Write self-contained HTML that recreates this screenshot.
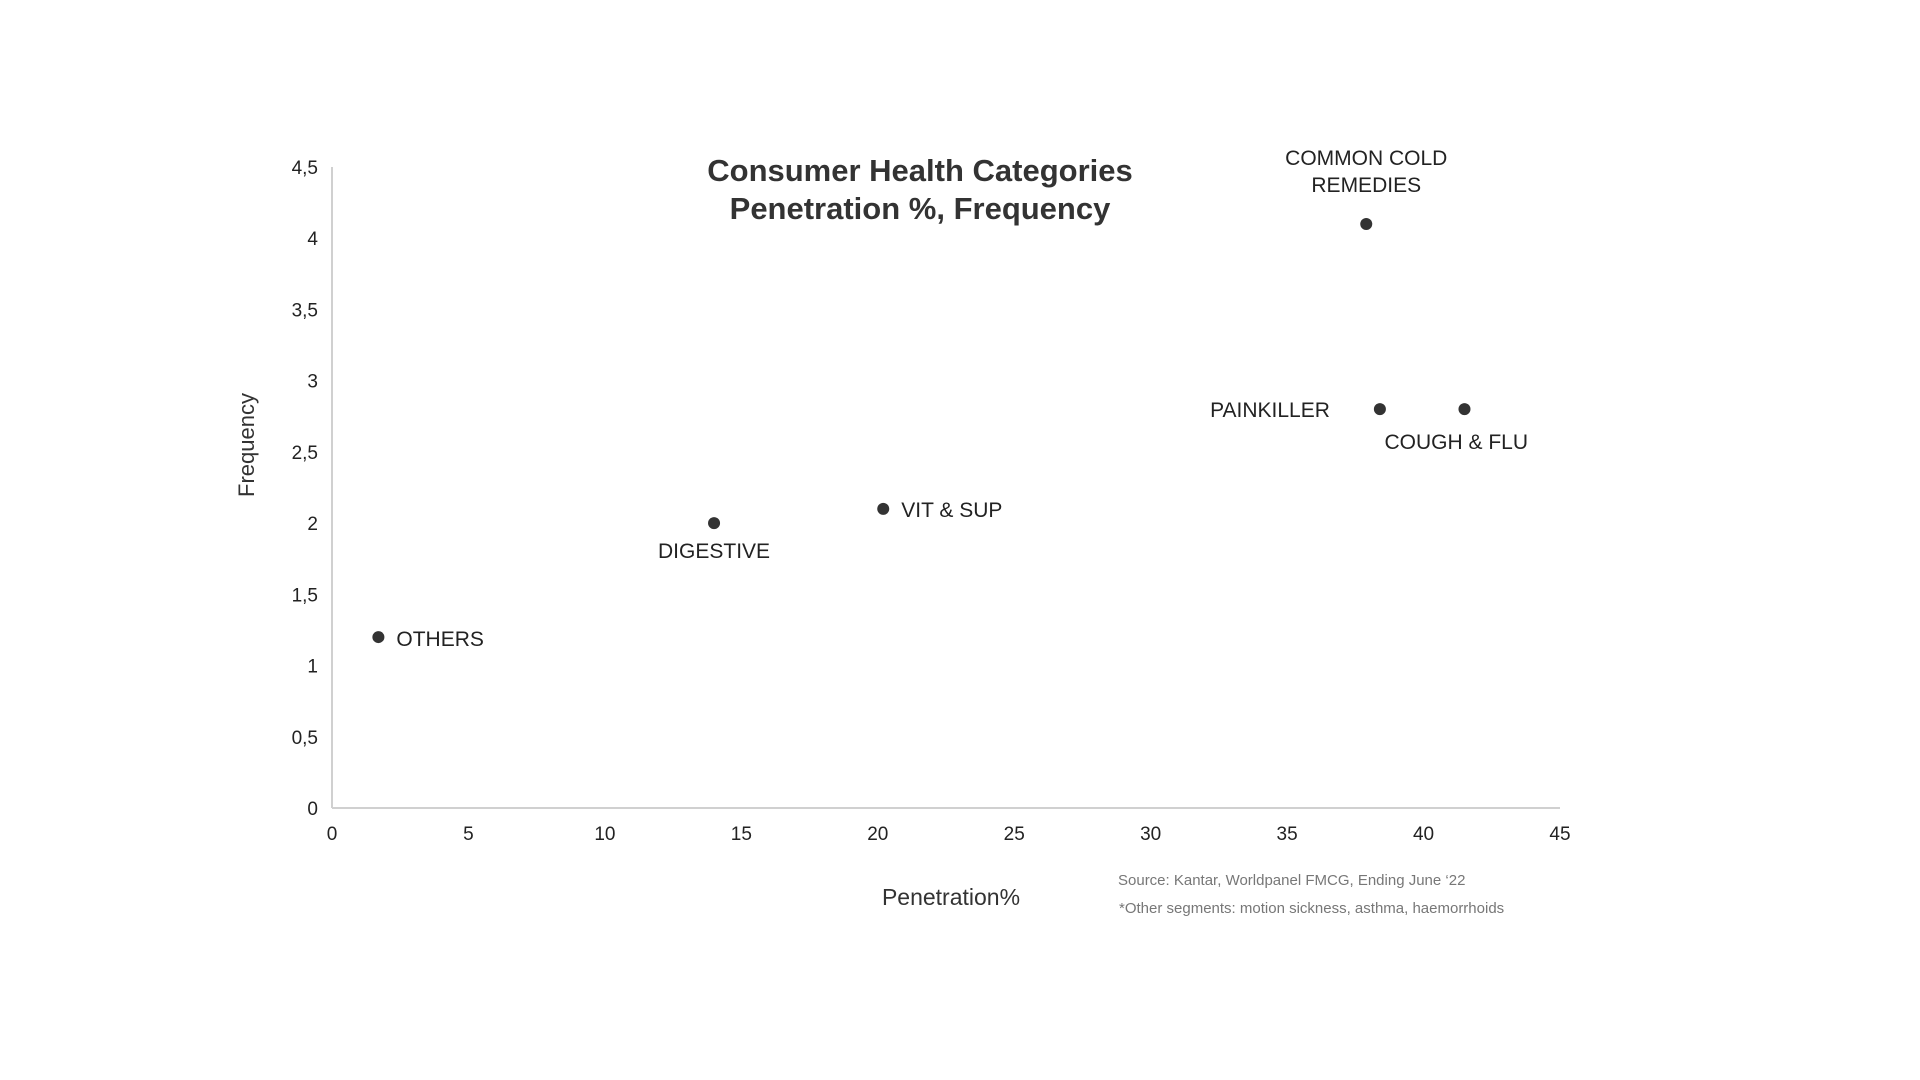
<!DOCTYPE html>
<html><head><meta charset="utf-8"><style>
html,body{margin:0;padding:0;background:#fff;}
svg{display:block;font-family:"Liberation Sans",sans-serif;}
</style></head><body>
<svg id="chart" width="1920" height="1080" viewBox="0 0 1920 1080" xmlns="http://www.w3.org/2000/svg">
<rect width="1920" height="1080" fill="#fff"/>
<g id="title">
<text x="920" y="181" text-anchor="middle" font-size="31" font-weight="bold" fill="#333">Consumer Health Categories</text>
<text x="920" y="219" text-anchor="middle" font-size="31" font-weight="bold" fill="#333">Penetration %, Frequency</text>
</g>
<g id="axes"></g>
<g id="points"></g>
<text transform="translate(254,445) rotate(-90)" text-anchor="middle" font-size="22" fill="#333">Frequency</text>
<text x="951" y="905" text-anchor="middle" font-size="23" fill="#333">Penetration%</text>
<text x="1118" y="885" font-size="15" fill="#777">Source: Kantar, Worldpanel FMCG, Ending June ‘22</text>
<text x="1119" y="913" font-size="15" fill="#777">*Other segments: motion sickness, asthma, haemorrhoids</text>
</svg>
<script>
const categories = ["COMMON COLD REMEDIES","PAINKILLER","COUGH & FLU","VIT & SUP","DIGESTIVE","OTHERS"];
const penetration = [37.9, 38.4, 41.5, 20.2, 14.0, 1.7];
const frequency = [4.1, 2.8, 2.8, 2.1, 2.0, 1.2];
const xTicks = ["0","5","10","15","20","25","30","35","40","45"];
const yTicks = ["0","0,5","1","1,5","2","2,5","3","3,5","4","4,5"];

const NS = "http://www.w3.org/2000/svg";
const X0 = 332, X1 = 1560, Y0 = 808, Y1 = 167, XMAX = 45, YMAX = 4.5;
const xs = v => X0 + (v / XMAX) * (X1 - X0);
const ys = v => Y0 - (v / YMAX) * (Y0 - Y1);
function mk(tag, attrs, parent){const e=document.createElementNS(NS,tag);for(const k in attrs)e.setAttribute(k,attrs[k]);parent.appendChild(e);return e;}
const axes = document.getElementById("axes");
const pts = document.getElementById("points");

const yl = mk("line",{x1:X0,y1:Y0,x2:X0,y2:Y1,stroke:"#d0d0d0","stroke-width":2},axes);


const xl = mk("line",{x1:X0,y1:Y0,x2:X1,y2:Y0,stroke:"#d0d0d0","stroke-width":2},axes);



xTicks.forEach(t=>{
  const e = mk("text",{x:xs(parseFloat(t)),y:840,"text-anchor":"middle","font-size":19,fill:"#222"},axes);
  e.textContent=t;
  
  
});
yTicks.forEach(t=>{
  const e = mk("text",{x:318,y:ys(parseFloat(t.replace(",",".")))+7,"text-anchor":"end","font-size":19,fill:"#222"},axes);
  e.textContent=t;
  
  
});

// label placement relative to point: [dx, dy, anchor]
const offsets = {
  "COMMON COLD REMEDIES":[0,-32,"middle"],
  "PAINKILLER":[-50,8,"end"],
  "COUGH & FLU":[-80,40,"start"],
  "VIT & SUP":[18,8,"start"],
  "DIGESTIVE":[0,35,"middle"],
  "OTHERS":[18,9,"start"]
};
categories.forEach((c,i)=>{
  const cx=xs(penetration[i]), cy=ys(frequency[i]);
  const d = mk("circle",{cx:cx,cy:cy,r:6,fill:"#333"},pts);
  
  
  const o = offsets[c];
  const t = mk("text",{x:cx+o[0],y:cy+o[1],"text-anchor":o[2],"font-size":21,fill:"#222"},pts);
  
  
  if(c==="COMMON COLD REMEDIES"){
    const a=mk("tspan",{x:cx+o[0],dy:-27},t); a.textContent="COMMON COLD";
    const b=mk("tspan",{x:cx+o[0],dy:27},t); b.textContent="REMEDIES";
  } else t.textContent=c;
});
</script>
</body></html>
